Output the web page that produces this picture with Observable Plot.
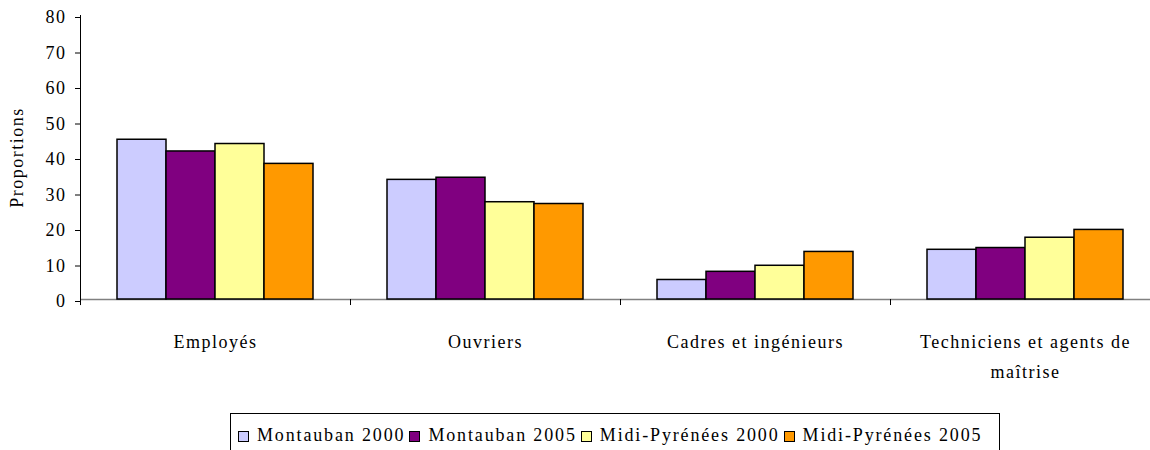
<!DOCTYPE html>
<html>
<head>
<meta charset="utf-8">
<script src="https://cdn.jsdelivr.net/npm/d3@7"></script>
<script src="https://cdn.jsdelivr.net/npm/@observablehq/plot@0.6"></script>
<style>
  html, body { margin: 0; padding: 0; background: #fff; overflow: hidden; }
  body { width: 1150px; height: 450px; font-family: "Liberation Serif", "Times New Roman", serif; }
  #chart svg { display: block; overflow: hidden; }
  #chart svg text { font-family: "Liberation Serif", "Times New Roman", serif; }
  #legend {
    position: absolute; left: 230px; top: 413px; width: 770px; height: 50px;
    border: 1px solid #000; box-sizing: border-box;
    display: flex; align-items: flex-start; padding: 11px 0 0 7px;
    font-family: "Liberation Serif", serif; font-size: 18px; letter-spacing: 1.85px; color: #000;
  }
  .item { display: flex; align-items: center; margin-right: 4px; white-space: nowrap; }
  .sw { width: 9px; height: 9px; border: 1.5px solid #000; margin-right: 8px; margin-top: 2px; }
</style>
</head>
<body>
<div id="chart"></div>
<div id="legend"></div>
<script>
const categories = ["Employés", "Ouvriers", "Cadres et ingénieurs", "Techniciens et agents de maîtrise"];
const categoryLabels = ["Employés", "Ouvriers", "Cadres et ingénieurs", "Techniciens et agents de\nmaîtrise"];
const series = ["Montauban 2000", "Montauban 2005", "Midi-Pyrénées 2000", "Midi-Pyrénées 2005"];
const colors = ["#CCCCFF", "#800080", "#FFFF99", "#FF9900"];
const montauban2000 = [45.0, 33.7, 5.5, 14.0];
const montauban2005 = [41.7, 34.3, 7.8, 14.5];
const midiPyrenees2000 = [43.8, 27.4, 9.5, 17.4];
const midiPyrenees2005 = [38.2, 26.9, 13.4, 19.6];
const yTicks = [0, 10, 20, 30, 40, 50, 60, 70, 80];

const seriesValues = [montauban2000, montauban2005, midiPyrenees2000, midiPyrenees2005];
const data = [];
categories.forEach((c, i) => series.forEach((s, j) => data.push({category: c, series: s, value: seriesValues[j][i]})));

const width = 1150, height = 410, marginLeft = 80, marginRight = -10, marginTop = 15, marginBottom = 111;
const facetStep = (width - marginLeft - marginRight) / categories.length;
const paddingOuter = 0.755;
const xStep = facetStep / (series.length + 2 * paddingOuter);
const toFacetEdge = -(paddingOuter * xStep + xStep / 2);
const font = "'Liberation Serif', 'Times New Roman', serif";

const chart = Plot.plot({
  width, height, marginLeft, marginRight, marginTop, marginBottom,
  style: {fontFamily: font, fontSize: "18px", letterSpacing: "1.5px", color: "#000", background: "#fff"},
  fx: {domain: categories, padding: 0, axis: null},
  x: {type: "band", domain: series, paddingInner: 0, paddingOuter, axis: null},
  y: {domain: [0, 80], axis: null},
  color: {domain: series, range: colors},
  marks: [
    Plot.ruleY([0], {stroke: "#808080", strokeWidth: 1.5}),
    Plot.barY(data, {fx: "category", x: "series", y: "value", fill: "series", stroke: "#000", strokeWidth: 1.5}),
    Plot.ruleX(categories, {fx: d => d, x: () => series[0], y1: 0, y2: -1.7, dx: toFacetEdge, stroke: "#000", strokeWidth: 1}),
    Plot.ruleX([categories[0]], {fx: d => d, x: () => series[0], y1: -1.7, y2: 80, dx: toFacetEdge, stroke: "#000", strokeWidth: 1}),
    Plot.axisY({ticks: yTicks, tickSize: 5, tickPadding: 9, anchor: "left", tickFormat: d => String(d), fontSize: 18, fontFamily: font, dy: 2, label: null, facetAnchor: "left", stroke: "#000"}),
    Plot.text(categories, {fx: d => d, text: (d, i) => categoryLabels[i], frameAnchor: "bottom", dy: 27, lineAnchor: "top", lineHeight: 1.67, fontSize: 18, fontFamily: font, fill: "#000"}),
    Plot.text(["Proportions"], {fx: () => categories[0], frameAnchor: "left", textAnchor: "middle", dx: -63, rotate: -90, fontSize: 18, fontFamily: font, fill: "#000"})
  ]
});
document.getElementById("chart").appendChild(chart);

const legend = document.getElementById("legend");
series.forEach((s, i) => {
  const item = document.createElement("div");
  item.className = "item";
  const sw = document.createElement("span");
  sw.className = "sw";
  sw.style.background = colors[i];
  const t = document.createElement("span");
  t.textContent = s;
  item.appendChild(sw);
  item.appendChild(t);
  legend.appendChild(item);
});
</script>
</body>
</html>
